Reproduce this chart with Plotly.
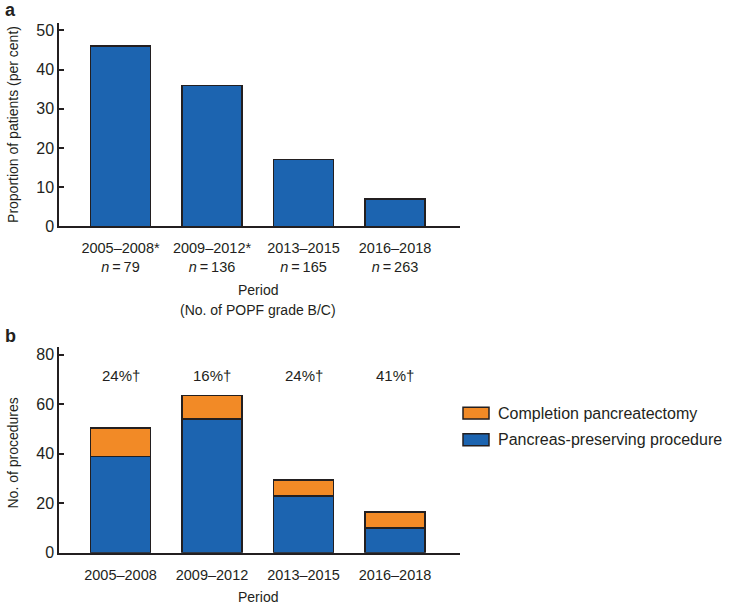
import plotly.graph_objects as go

### DATA
periods = ["2005–2008", "2009–2012", "2013–2015", "2016–2018"]
popf_labels = ["2005–2008*", "2009–2012*", "2013–2015", "2016–2018"]
popf_n = [79, 136, 165, 263]
popf_pct = [46, 36, 17, 7]

preserving = [39, 54, 23, 10]
completion = [11.5, 9.5, 6.5, 6.5]
completion_pct = ["24%†", "16%†", "24%†", "41%†"]

### STYLE
W, H = 729, 614
BLUE = "#1c64b0"
ORANGE = "#f28a26"
INK = "#231f20"
FONT = "Liberation Sans, Arial, sans-serif"


def fx(px):
    return px / W


def fy(py):
    return 1 - py / H


tick_text_a = [f"{lab}<br><i>n</i>\u2009=\u2009{n}" for lab, n in zip(popf_labels, popf_n)]

fig = go.Figure()

# panel a
fig.add_trace(go.Bar(x=periods, y=popf_pct, xaxis="x", yaxis="y", width=0.656,
                     marker=dict(color=BLUE, line=dict(color=INK, width=1.5)),
                     showlegend=False))

# panel b (stacked)
fig.add_trace(go.Bar(x=periods, y=preserving, xaxis="x2", yaxis="y2", width=0.656,
                     name="Pancreas-preserving procedure",
                     marker=dict(color=BLUE, line=dict(color=INK, width=1.5)),
                     showlegend=False))
fig.add_trace(go.Bar(x=periods, y=completion, xaxis="x2", yaxis="y2", width=0.656,
                     name="Completion pancreatectomy",
                     marker=dict(color=ORANGE, line=dict(color=INK, width=1.5)),
                     showlegend=False))

xrange = [-0.672, 3.71]
common_x = dict(range=xrange, showline=True, linecolor=INK, linewidth=1.5,
                ticks="", showgrid=False, zeroline=False, fixedrange=True,
                tickfont=dict(size=14.5, color=INK), ticklabelstandoff=8)
common_y = dict(showline=True, linecolor=INK, linewidth=1.5, ticks="inside",
                ticklen=5, tickcolor=INK, tickwidth=1.5, showgrid=False,
                zeroline=False, tickfont=dict(size=16, color=INK))

fig.update_layout(
    width=W, height=H,
    margin=dict(l=0, r=0, t=0, b=0),
    plot_bgcolor="white", paper_bgcolor="white",
    barmode="stack",
    font=dict(family=FONT, color=INK, size=14),
    xaxis=dict(domain=[fx(59), fx(460)], anchor="y", tickmode="array",
               tickvals=periods, ticktext=tick_text_a, **common_x),
    yaxis=dict(domain=[fy(229), fy(22)], anchor="x", range=[0, 52],
               tickvals=[0, 10, 20, 30, 40, 50], **common_y),
    xaxis2=dict(domain=[fx(59), fx(460)], anchor="y2", **common_x),
    yaxis2=dict(domain=[fy(561), fy(352)], anchor="x2", range=[0, 83],
                tickvals=[0, 20, 40, 60, 80], **common_y),
)

ann = []
# panel letters
ann.append(dict(text="<b>a</b>", x=fx(3), y=fy(9), xref="paper", yref="paper",
                xanchor="left", yanchor="middle", showarrow=False, font=dict(size=18)))
ann.append(dict(text="<b>b</b>", x=fx(3), y=fy(341), xref="paper", yref="paper",
                xanchor="left", yanchor="middle", showarrow=False, font=dict(size=18)))
# axis titles
ann.append(dict(text="Proportion of patients (per cent)", x=fx(13), y=fy(126),
                xref="paper", yref="paper", textangle=-90, showarrow=False,
                xanchor="center", yanchor="middle", font=dict(size=14)))
ann.append(dict(text="No. of procedures", x=fx(13), y=fy(460),
                xref="paper", yref="paper", textangle=-90, showarrow=False,
                xanchor="center", yanchor="middle", font=dict(size=14)))
ann.append(dict(text="Period", x=fx(258), y=fy(294), xref="paper", yref="paper",
                showarrow=False, xanchor="center", yanchor="middle", font=dict(size=14)))
ann.append(dict(text="(No. of POPF grade B/C)", x=fx(258), y=fy(314), xref="paper",
                yref="paper", showarrow=False, xanchor="center", yanchor="middle",
                font=dict(size=14)))
ann.append(dict(text="Period", x=fx(258), y=fy(606), xref="paper", yref="paper",
                showarrow=False, xanchor="center", yanchor="middle", font=dict(size=14)))
# percentages above bars
for p, t in zip(periods, completion_pct):
    ann.append(dict(text=t, x=p, y=71.6, xref="x2", yref="y2", showarrow=False,
                    xanchor="center", yanchor="middle", font=dict(size=15)))

# legend (drawn)
legend_items = [("Completion pancreatectomy", ORANGE, 419),
                ("Pancreas-preserving procedure", BLUE, 446)]
shapes = []
for label, col, yc in legend_items:
    shapes.append(dict(type="rect", xref="paper", yref="paper",
                       x0=fx(463), x1=fx(489), y0=fy(yc - 6), y1=fy(yc + 6),
                       fillcolor=col, line=dict(color=INK, width=1.5)))
    ann.append(dict(text=label, x=fx(496), y=fy(yc), xref="paper", yref="paper",
                    showarrow=False, xanchor="left", yanchor="middle",
                    font=dict(size=16)))

fig.update_layout(annotations=ann, shapes=shapes)

# drop the default 8px body margin so the figure fills the window exactly
fig.write_html("out.html", config={"displayModeBar": False},
               post_script="document.body.style.margin='0';")
